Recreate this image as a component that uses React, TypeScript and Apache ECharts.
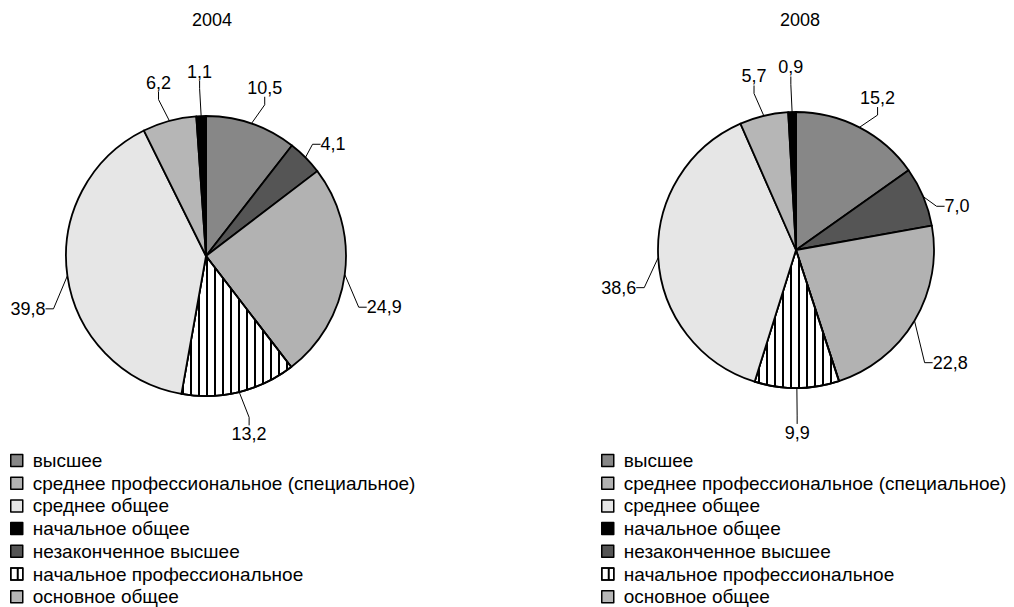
import React, { useEffect, useRef } from "react";
import * as echarts from "echarts";

const categories = [
  "высшее",
  "незаконченное высшее",
  "среднее профессиональное (специальное)",
  "начальное профессиональное",
  "среднее общее",
  "основное общее",
  "начальное общее",
];
const legendOrder = [
  "высшее",
  "среднее профессиональное (специальное)",
  "среднее общее",
  "начальное общее",
  "незаконченное высшее",
  "начальное профессиональное",
  "основное общее",
];
const years = ["2004", "2008"];
const values2004 = [10.5, 4.1, 24.9, 13.2, 39.8, 6.2, 1.1];
const values2008 = [15.2, 7.0, 22.8, 9.9, 38.6, 5.7, 0.9];
const colors = ["#878787", "#555555", "#b2b2b2", "#ffffff", "#e6e6e6", "#b6b6b6", "#000000"];

const FONT = "'Liberation Sans', Arial, sans-serif";
const CENTERS = [
  [206, 256],
  [796, 250],
];
const RADII = [140, 138];

export default function App() {
  const ref = useRef<HTMLDivElement>(null);
  useEffect(() => {
    if (!ref.current) return;
    const chart = echarts.init(ref.current, undefined, { renderer: "svg" });
    const stripe = {
      symbol: "rect",
      symbolSize: 1,
      dashArrayX: [1, 0],
      dashArrayY: [2, 5.3],
      rotation: Math.PI / 2,
      color: "#000",
      backgroundColor: "#fff",
    };
    const makeData = (vals: number[]) =>
      categories.map((name, i) => ({
        name,
        value: vals[i],
        itemStyle: i === 3 ? { color: "#fff", decal: stripe } : { color: colors[i] },
      }));

    // Excel-like leader lines: label placed outward along the slice's mid direction
    // (side labels sit a little lower), line goes from the pie edge to a short stub
    // attached to the nearest label side.
    const labelLayout = (params: any) => {
      const pts = params.labelLinePoints;
      if (!pts) return {};
      const [cx, cy] = CENTERS[params.seriesIndex];
      const p0 = pts[0];
      let dx = p0[0] - cx;
      let dy = p0[1] - cy;
      const len = Math.hypot(dx, dy) || 1;
      dx /= len;
      dy /= len;
      const w = params.labelRect.width;
      const h = params.labelRect.height;
      const ext = Math.min(w / 2 / Math.max(Math.abs(dx), 1e-3), h / 2 / Math.max(Math.abs(dy), 1e-3));
      const gap = 36 - 14 * Math.abs(dx);
      const D = gap + ext;
      const lx = p0[0] + dx * D;
      const ly = p0[1] + dy * D + 28 * dx * dx;
      const stub = 8;
      let attach: number[];
      let knee: number[];
      if (Math.abs(p0[0] - lx) < w / 2 + 6) {
        const s = ly < p0[1] ? 1 : -1;
        attach = [lx, ly + (s * h) / 2];
        knee = [lx, attach[1] + s * stub];
      } else {
        const s = lx < p0[0] ? 1 : -1;
        attach = [lx + (s * w) / 2, ly];
        knee = [attach[0] + s * stub, ly];
      }
      return {
        x: lx,
        y: ly,
        align: "center",
        verticalAlign: "middle",
        labelLinePoints: [p0, knee, attach],
      };
    };

    const makeSeries = (vals: number[], idx: number) => ({
      type: "pie",
      center: CENTERS[idx],
      radius: RADII[idx],
      startAngle: 90,
      clockwise: true,
      data: makeData(vals),
      itemStyle: { borderColor: "#000", borderWidth: 1.8 },
      label: {
        show: true,
        position: "outside",
        formatter: (p: any) => Number(p.value).toFixed(1).replace(".", ","),
        color: "#000",
        fontSize: 18,
        fontFamily: FONT,
        overflow: "none",
        padding: [0, 1],
      },
      labelLine: { show: true, length: 15, length2: 8, smooth: false, lineStyle: { color: "#000", width: 1 } },
      labelLayout,
      emphasis: { disabled: true },
    });
    const makeLegend = (left: number) => ({
      orient: "vertical",
      left,
      top: 446,
      height: 180,
      data: legendOrder,
      itemWidth: 12,
      itemHeight: 12,
      itemGap: 3.7,
      icon: "rect",
      itemStyle: { borderColor: "#000", borderWidth: 1.5 },
      textStyle: { fontSize: 19, fontFamily: FONT, color: "#000", padding: [0, 0, 0, 5] },
      selectedMode: false,
    });
    chart.setOption({
      animation: false,
      graphic: [
        { type: "text", x: 212, y: 20, style: { text: years[0], fontSize: 18, fontFamily: FONT, fill: "#000", align: "center", verticalAlign: "middle" } },
        { type: "text", x: 800, y: 20, style: { text: years[1], fontSize: 18, fontFamily: FONT, fill: "#000", align: "center", verticalAlign: "middle" } },
      ],
      legend: [makeLegend(5), makeLegend(596)],
      series: [makeSeries(values2004, 0), makeSeries(values2008, 1)],
    });
    return () => chart.dispose();
  }, []);
  return <div ref={ref} style={{ position: "fixed", left: 0, top: 0, width: 1014, height: 607, background: "#fff" }} />;
}
